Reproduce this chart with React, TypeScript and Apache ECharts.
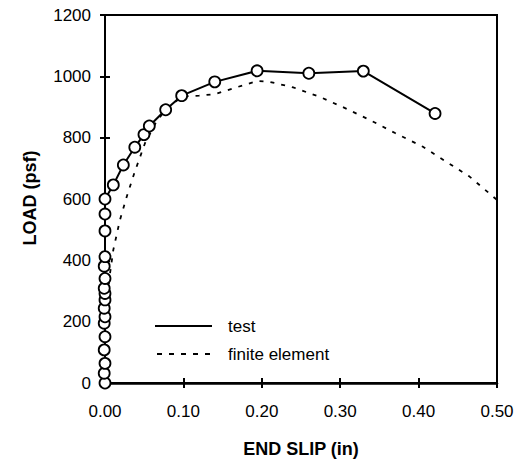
import React, { useEffect, useRef } from "react";
import * as echarts from "echarts";

const testSlip = [0, -0.001, 0, -0.001, 0, -0.001, 0, -0.001, 0, 0, -0.001, 0, -0.001, 0, 0, 0, 0, 0.0106, 0.0234, 0.038, 0.0497, 0.0565, 0.0774, 0.0978, 0.14, 0.194, 0.26, 0.3295, 0.421];
const testLoad = [0, 32, 64, 108, 151, 195, 216, 244, 271, 292, 309, 341, 381, 412, 496, 551, 600, 646, 711, 769, 810, 838, 891, 937, 982, 1018, 1010, 1017, 879];

const feSlip = [0, 0.002, 0.0055, 0.0106, 0.019, 0.028, 0.038, 0.051, 0.065, 0.08, 0.1, 0.12, 0.14, 0.17, 0.195, 0.21, 0.24, 0.275, 0.31, 0.34, 0.37, 0.405, 0.435, 0.465, 0.5];
const feLoad = [0, 230, 341, 434, 531, 610, 689, 782, 850, 900, 935, 937, 942, 966, 985, 982, 964, 932, 892, 855, 815, 771, 722, 673, 597];

const xTicks = [0, 0.1, 0.2, 0.3, 0.4, 0.5];
const yTicks = [0, 200, 400, 600, 800, 1000, 1200];

const legendNames = ["test", "finite element"];
const xTitle = "END SLIP (in)";
const yTitle = "LOAD (psf)";

const FONT = "'Liberation Sans', Arial, sans-serif";

export default function App() {
  const ref = useRef<HTMLDivElement>(null);
  useEffect(() => {
    if (!ref.current) return;
    const chart = echarts.init(ref.current, null, { renderer: "svg" });
    const common = {
      type: "value" as const,
      splitLine: { show: false },
    };
    chart.setOption({
      animation: false,
      grid: {
        left: 105,
        top: 15,
        right: 28,
        bottom: 80,
        show: true,
        borderColor: "#000",
        borderWidth: 2,
        backgroundColor: "transparent",
      },
      xAxis: [
        {
          ...common,
          min: xTicks[0],
          max: xTicks[xTicks.length - 1],
          interval: 0.1,
          axisLine: { show: true, onZero: false, lineStyle: { color: "#000", width: 2.5 } },
          axisTick: { show: true, inside: false, length: 5, lineStyle: { color: "#000", width: 2 } },
          axisLabel: {
            margin: 20,
            color: "#000",
            fontSize: 17,
            fontFamily: FONT,
            formatter: (v: number) => v.toFixed(2),
          },
          name: xTitle,
          nameLocation: "middle",
          nameGap: 57,
          nameTextStyle: { color: "#000", fontSize: 18, fontWeight: "bold", fontFamily: FONT },
        },
        {
          ...common,
          position: "bottom",
          min: xTicks[0],
          max: xTicks[xTicks.length - 1],
          interval: 0.1,
          axisLine: { show: false },
          axisTick: { show: true, inside: true, length: 5, lineStyle: { color: "#000", width: 2 } },
          axisLabel: { show: false },
        },
      ],
      yAxis: [
        {
          ...common,
          min: yTicks[0],
          max: yTicks[yTicks.length - 1],
          interval: 200,
          axisLine: { show: true, onZero: false, lineStyle: { color: "#000", width: 2 } },
          axisTick: { show: true, inside: false, length: 5, lineStyle: { color: "#000", width: 2 } },
          axisLabel: { margin: 14, color: "#000", fontSize: 17, fontFamily: FONT, formatter: (v: number) => String(v) },
        },
        {
          ...common,
          position: "left",
          min: yTicks[0],
          max: yTicks[yTicks.length - 1],
          interval: 200,
          axisLine: { show: false },
          axisTick: { show: true, inside: true, length: 5, lineStyle: { color: "#000", width: 2 } },
          axisLabel: { show: false },
        },
      ],
      graphic: [
        {
          type: "text",
          x: 30,
          y: 198,
          rotation: Math.PI / 2,
          style: {
            text: yTitle,
            fill: "#000",
            font: `bold 18px ${FONT}`,
            align: "center",
            verticalAlign: "middle",
          },
        },
        {
          type: "line",
          shape: { x1: 155, y1: 326, x2: 212, y2: 326 },
          style: { stroke: "#000", lineWidth: 2 },
        },
        {
          type: "text",
          x: 228,
          y: 326,
          style: { text: legendNames[0], fill: "#000", font: `17px ${FONT}`, verticalAlign: "middle" },
        },
        {
          type: "line",
          shape: { x1: 157, y1: 354, x2: 213, y2: 354 },
          style: { stroke: "#000", lineWidth: 1.8, lineDash: [5, 7] },
        },
        {
          type: "text",
          x: 228,
          y: 354,
          style: { text: legendNames[1], fill: "#000", font: `17px ${FONT}`, verticalAlign: "middle" },
        },
      ],
      series: [
        {
          name: legendNames[1],
          type: "line",
          data: feSlip.map((x, i) => [x, feLoad[i]]),
          showSymbol: false,
          symbol: "none",
          clip: false,
          lineStyle: { color: "#000", width: 1.8, type: [4, 7] },
          z: 2,
        },
        {
          name: legendNames[0],
          type: "line",
          data: testSlip.map((x, i) => [x, testLoad[i]]),
          symbol: "circle",
          symbolSize: 11,
          clip: false,
          itemStyle: { color: "#fff", borderColor: "#000", borderWidth: 1.8 },
          lineStyle: { color: "#000", width: 2 },
          z: 3,
        },
      ],
    });
    return () => chart.dispose();
  }, []);
  return <div ref={ref} style={{ position: "absolute", left: 0, top: 0, width: 525, height: 463 }} />;
}
